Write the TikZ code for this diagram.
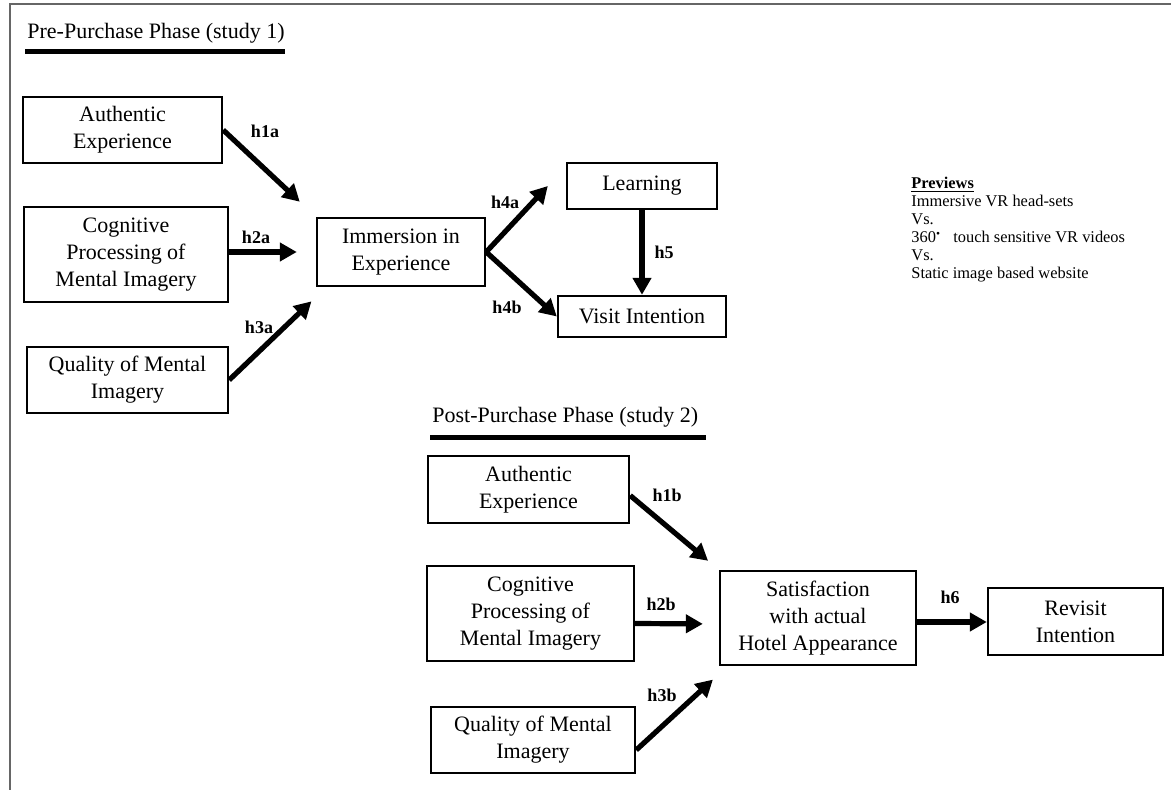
\documentclass[tikz,border=0pt]{standalone}
\usepackage{fontspec}
\setmainfont{Liberation Serif}
\usetikzlibrary{arrows.meta,calc}
\tikzset{
	box/.style={draw, line width=1.2pt, align=center, inner sep=0pt, font=\fontsize{11}{13.5}\selectfont},
	link/.style={line width=2.6pt, -{Triangle[length=8.5pt,width=9pt]}},
	hyp/.style={font=\fontsize{9}{10}\selectfont\bfseries},
	phase/.style={anchor=west, inner sep=0pt, font=\fontsize{11}{13.5}\selectfont}
}

\begin{document}
\begin{tikzpicture}[x=0.5pt,y=-0.5pt]
			%%%%% START %%%%%
			\useasboundingbox (0,0) rectangle (1171,790);
			
			\draw[line width=1pt, color=black!60] (1171,4.5) -- (9.5,4.5) -- (9.5,790);
			
			\node[phase] (pre) at (27,33) {Pre-Purchase Phase (study 1)};
			\draw[fill=black] (25,49) rectangle (284,53);
			
			\node[box, minimum width=99.5pt, minimum height=33pt] (auth1) at (122.5,130) {Authentic\\Experience};
			\node[box, minimum width=102pt, minimum height=47.5pt] (cog1) at (126,254.5) {Cognitive\\Processing of\\Mental Imagery};
			\node[box, minimum width=100.5pt, minimum height=33pt] (qual1) at (127.5,380) {Quality of Mental\\Imagery};
			\node[box, minimum width=84pt, minimum height=34pt] (imm) at (401,252) {Immersion in\\Experience};
			\node[box, minimum width=75pt, minimum height=23pt] (learn) at (642,186) {Learning};
			\node[box, minimum width=84pt, minimum height=20.5pt] (visit) at (642,316.5) {Visit Intention};
			
			\draw[link, shorten >=11pt] (auth1.east) -- (imm.north west);
			\draw[link, shorten >=9.5pt] (imm.west -| cog1.east) -- (imm.west);
			\draw[link, shorten >=3pt] (qual1.east) -- ($(imm.south west)+(0,10)$);
			\draw[link] (imm.east) -- ([xshift=-9pt]learn.west);
			\draw[link] (imm.east) -- (visit.west);
			\draw[link] (learn.south) -- (visit.north);
			
			\node[hyp] (h1a) at (265,131) {h1a};
			\node[hyp] (h2a) at (256,237) {h2a};
			\node[hyp] (h3a) at (259,327) {h3a};
			\node[hyp] (h4a) at (505,202) {h4a};
			\node[hyp] (h4b) at (507,307) {h4b};
			\node[hyp] (h5) at (664,252) {h5};
			
			\node[anchor=north west, inner sep=0pt, align=left, font=\fontsize{8.2}{9}\selectfont] (prev) at (911,177)
			{\textbf{\underline{Previews}}\\Immersive VR head-sets\\Vs.\\360\textsuperscript{\textbullet}\ \ \ touch sensitive VR videos\\Vs.\\Static image based website};
			
			\node[phase] (post) at (432,417) {Post-Purchase Phase (study 2)};
			\draw[fill=black] (430,435) rectangle (705,439);
			
			\node[box, minimum width=100.5pt, minimum height=33.5pt] (auth2) at (528.5,489.5) {Authentic\\Experience};
			\node[box, minimum width=103.5pt, minimum height=47.5pt] (cog2) at (530.5,613.5) {Cognitive\\Processing of\\Mental Imagery};
			\node[box, minimum width=102pt, minimum height=33pt] (qual2) at (533,740) {Quality of Mental\\Imagery};
			\node[box, minimum width=98pt, minimum height=47pt] (sat) at (818,618) {Satisfaction\\with actual\\Hotel Appearance};
			\node[box, minimum width=87.5pt, minimum height=33.5pt] (revisit) at (1075.5,621.5) {Revisit\\Intention};
			
			\draw[link, shorten >=7pt] ([yshift=-3pt]auth2.east) -- (sat.north west);
			\draw[link, shorten >=8pt] ([yshift=-5pt]cog2.east) -- ([yshift=-3pt]sat.west);
			\draw[link, shorten >=4pt] ([yshift=-5pt]qual2.east) -- ($(sat.south west)+(0,8)$);
			\draw[link] ([yshift=-2pt]sat.east) -- ([yshift=-2pt]sat.east -| revisit.west);
			
			\node[hyp] (h1b) at (667,495) {h1b};
			\node[hyp] (h2b) at (661,604) {h2b};
			\node[hyp] (h3b) at (662,695) {h3b};
			\node[hyp] (h6) at (950,597) {h6};
			
			%%%%% END %%%%%
\end{tikzpicture}
\end{document}
